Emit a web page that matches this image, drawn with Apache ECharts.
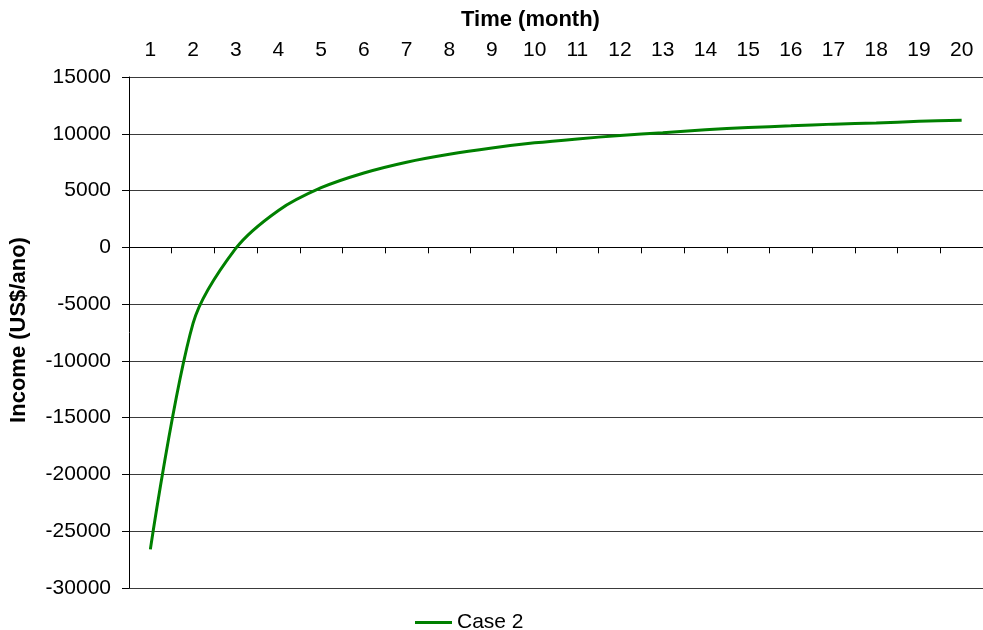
<!DOCTYPE html>
<html>
<head>
<meta charset="utf-8">
<script src="https://cdn.jsdelivr.net/npm/echarts@6/dist/echarts.min.js"></script>
<style>
  html, body { margin: 0; padding: 0; background: #fff; }
  #chart { width: 983px; height: 630px; }
</style>
</head>
<body>
<div id="chart"></div>
<script>
// Months on the category axis
const months = ['1','2','3','4','5','6','7','8','9','10','11','12','13','14','15','16','17','18','19','20'];
// Income per month, Case 2
const case2 = [-26600, -6700, -100, 3250, 5250, 6550, 7500, 8200, 8750, 9200,
               9550, 9850, 10100, 10350, 10550, 10700, 10850, 10950, 11100, 11200];
// Value axis range
const yMin = -30000, yMax = 15000, yStep = 5000;

const FONT = 'Liberation Sans, Arial, sans-serif';
const chart = echarts.init(document.getElementById('chart'), null, { renderer: 'canvas' });

chart.setOption({
  backgroundColor: '#ffffff',
  animation: false,
  textStyle: { fontFamily: FONT, color: '#000' },
  grid: { left: 129, top: 77, width: 858, height: 511, containLabel: false },
  graphic: [
    {
      type: 'text', left: 461, top: 9,
      style: { text: 'Time (month)', font: 'bold 22px ' + FONT, fill: '#000' }
    },
    {
      type: 'text', rotation: Math.PI / 2, x: 8, y: 330,
      style: { text: 'Income (US$/ano)', font: 'bold 22px ' + FONT, fill: '#000',
               align: 'center', verticalAlign: 'top' }
    }
  ],
  legend: {
    left: 410, top: 607,
    icon: 'rect', itemWidth: 37, itemHeight: 3, itemGap: 10,
    textStyle: { fontFamily: FONT, fontSize: 21, color: '#000' },
    data: ['Case 2']
  },
  xAxis: [
    {
      type: 'category', data: months, position: 'top', boundaryGap: true,
      axisLine: { show: false, onZero: false },
      axisTick: { show: false },
      axisLabel: { margin: 16, fontSize: 21, color: '#000', fontFamily: FONT, interval: 0 },
      splitLine: { show: false }
    },
    {
      type: 'category', data: months, position: 'bottom', boundaryGap: true,
      axisLine: { show: true, onZero: true, lineStyle: { color: '#000', width: 1 } },
      axisTick: { show: true, length: 6, interval: 0, lineStyle: { color: '#000' } },
      axisLabel: { show: false },
      splitLine: { show: false }
    }
  ],
  yAxis: {
    type: 'value', min: yMin, max: yMax, interval: yStep,
    axisLine: { show: true, lineStyle: { color: '#000', width: 1 } },
    axisTick: { show: true, length: 7, lineStyle: { color: '#000' } },
    axisLabel: { margin: 18, fontSize: 21, color: '#000', fontFamily: FONT,
                 formatter: function (v) { return String(v); } },
    splitLine: { show: true, lineStyle: { color: '#3a3a3a', width: 1 } }
  },
  series: [{
    name: 'Case 2',
    type: 'line',
    xAxisIndex: 0,
    data: case2,
    smooth: 0.3,
    showSymbol: false,
    lineStyle: { color: '#008000', width: 3 },
    itemStyle: { color: '#008000' }
  }]
});
</script>
</body>
</html>
